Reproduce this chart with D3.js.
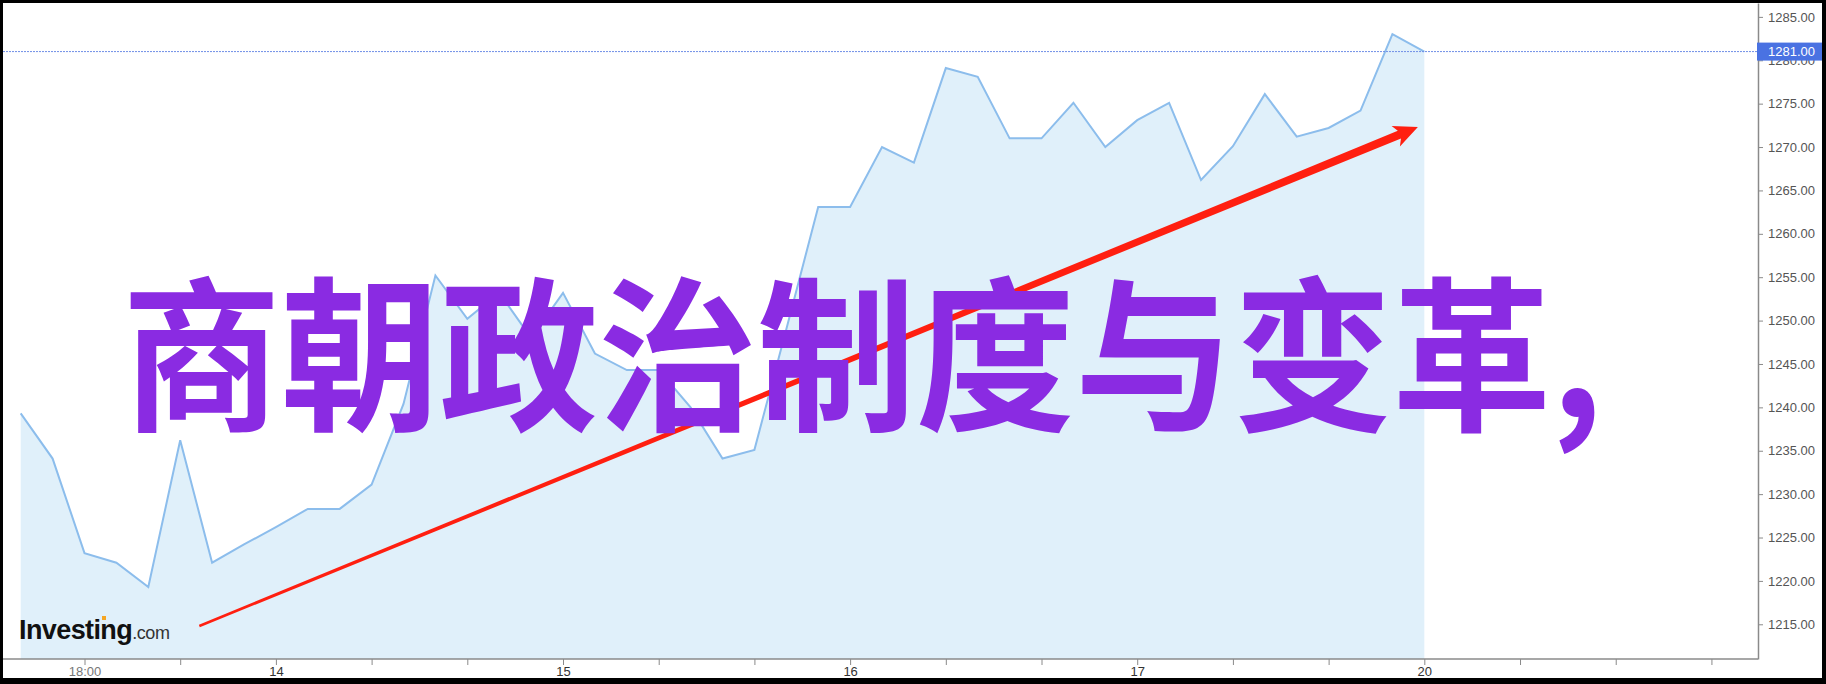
<!DOCTYPE html>
<html><head><meta charset="utf-8">
<script src="https://cdn.jsdelivr.net/npm/d3@7"></script>
<style>html,body{margin:0;padding:0;background:#000;overflow:hidden}</style>
</head><body><svg id="c" width="1826" height="684"></svg>
<script>
// ---- data ----
const prices = [1239.3,1234.1,1223.2,1222.1,1219.3,1236.2,1222.1,1224.2,1226.2,1228.3,
  1228.3,1231.1,1240.4,1255.2,1250.2,1253.2,1248.0,1253.2,1246.2,1244.3,
  1244.3,1240.0,1234.1,1235.1,1249.0,1263.1,1263.1,1270.0,1268.2,1279.1,
  1278.1,1271.0,1271.0,1275.1,1270.0,1273.1,1275.1,1266.2,1270.1,1276.1,
  1271.2,1272.2,1274.2,1283.0,1281.0];
const xTickIdx = [2,5,8,11,14,17,20,23,26,29,32,35,38,41,44,47,50,53];
const xTickLabels = ["18:00","","14","","","15","","","16","","","17","","","20","","",""];
const yTicks = [1215,1220,1225,1230,1235,1240,1245,1250,1255,1260,1265,1270,1275,1280,1285];
const lastPrice = 1281;
const titleText = "商朝政治制度与变革,";
const arrowFrom = [5.6, 1214.8];
const arrowTo = [43.8, 1272.3];

// ---- chart ----
const svg = d3.select("#c");
svg.append("rect").attr("x",3).attr("y",3).attr("width",1819).attr("height",675).attr("fill","#fff");

const x = d3.scaleLinear().domain([0, 54.46]).range([20.7, 1758]);
const y = d3.scaleLinear().domain([1211, 1286.6]).range([659, 3]);

svg.append("path").datum(prices)
  .attr("fill","#e0f0fa")
  .attr("d", d3.area().x((d,i)=>x(i)).y0(y(1211)).y1(d=>y(d)));
svg.append("path").datum(prices)
  .attr("fill","none").attr("stroke","#8cbdec").attr("stroke-width",2)
  .attr("stroke-linejoin","miter")
  .attr("d", d3.line().x((d,i)=>x(i)).y(d=>y(d)));

// dotted last-price line
svg.append("line").attr("x1",3).attr("x2",1758).attr("y1",y(lastPrice)).attr("y2",y(lastPrice))
  .attr("stroke","#6f8fe6").attr("stroke-width",1).attr("stroke-dasharray","2,1");

// red tapered arrow
(function(){
  const x0=x(arrowFrom[0]), y0=y(arrowFrom[1]), x1=x(arrowTo[0]), y1=y(arrowTo[1]);
  const dx=x1-x0, dy=y1-y0, L=Math.hypot(dx,dy), ux=dx/L, uy=dy/L, nx=-uy, ny=ux;
  const headL=24, headW=11, w0=1.3, w1=4.2, notch=4;
  const bx=x1-ux*headL, by=y1-uy*headL;
  const P=(px,py)=>px.toFixed(1)+","+py.toFixed(1);
  const pts=[
    P(x0+nx*w0,y0+ny*w0),
    P(bx+ux*notch+nx*w1,by+uy*notch+ny*w1),
    P(bx+nx*headW,by+ny*headW),
    P(x1,y1),
    P(bx-nx*headW,by-ny*headW),
    P(bx+ux*notch-nx*w1,by+uy*notch-ny*w1),
    P(x0-nx*w0,y0-ny*w0)];
  svg.append("polygon").attr("points",pts.join(" ")).attr("fill","#ff1f10");
})();

// title
svg.append("text").attr("transform","translate(122,418) scale(1.005,1.052)")
  .attr("font-family","'Noto Sans CJK SC','Noto Sans CJK JP',sans-serif")
  .attr("font-weight",700).attr("font-size",158).attr("fill","#8a2be2")
  .text(titleText);

// logo
const logo = svg.append("text").attr("x",19).attr("y",639)
  .attr("font-family","'Liberation Sans',Arial,sans-serif");
logo.append("tspan").attr("font-weight",700).attr("font-size",27).attr("letter-spacing",-0.6).attr("fill","#111").text("Investing");
logo.append("tspan").attr("font-size",18).attr("letter-spacing",-0.4).attr("fill","#333").text(".com");
svg.append("rect").attr("x",102).attr("y",616).attr("width",4).attr("height",4).attr("fill","#f5a623");

// axes
const yAxis = d3.axisRight(y).tickValues(yTicks).tickSize(5).tickPadding(5).tickSizeOuter(0)
  .tickFormat(d3.format(".2f"));
const gy = svg.append("g").attr("transform","translate(1758,0)").call(yAxis);
gy.select(".domain").attr("stroke","#8a8a8a").attr("stroke-width",1.5);
gy.selectAll(".tick line").attr("stroke","#8a8a8a");
gy.selectAll(".tick text").attr("fill","#555").attr("font-size",13)
  .attr("font-family","'Liberation Sans',Arial,sans-serif");

const xAxis = d3.axisBottom(x).tickValues(xTickIdx).tickSize(6).tickPadding(2).tickSizeOuter(0)
  .tickFormat((d,i)=>xTickLabels[i]);
const gx = svg.append("g").attr("transform","translate(0,659)").call(xAxis);
gx.select(".domain").remove();
gx.append("line").attr("x1",3).attr("x2",1758).attr("stroke","#8a8a8a").attr("stroke-width",1.5);
gx.selectAll(".tick line").attr("stroke","#8a8a8a");
gx.selectAll(".tick text").attr("font-size",13).attr("font-family","'Liberation Sans',Arial,sans-serif")
  .attr("fill",(d,i)=>i===0?"#777":"#333");

// last price box
const yl = y(lastPrice);
svg.append("rect").attr("x",1757).attr("y",yl-9).attr("width",65).attr("height",18).attr("fill","#4a72e2");
svg.append("text").attr("x",1768).attr("y",yl).attr("dy","0.35em").attr("fill","#fff")
  .attr("font-size",13).attr("font-family","'Liberation Sans',Arial,sans-serif")
  .text(d3.format(".2f")(lastPrice));
</script></body></html>
